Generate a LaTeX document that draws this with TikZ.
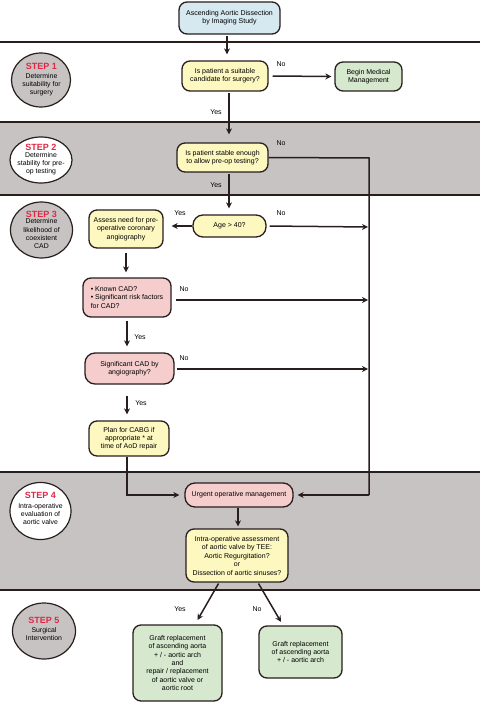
\documentclass[tikz,border=0pt]{standalone}
\usepackage{fontspec}
\setmainfont{Liberation Sans}
\usetikzlibrary{arrows.meta,shapes.geometric}
\definecolor{linec}{RGB}{40,30,30}
\definecolor{bandg}{RGB}{200,195,195}
\definecolor{circg}{RGB}{200,195,195}
\definecolor{bluef}{RGB}{214,233,240}
\definecolor{yelf}{RGB}{253,248,192}
\definecolor{greenf}{RGB}{214,232,206}
\definecolor{pinkf}{RGB}{246,205,205}
\definecolor{stepred}{RGB}{222,40,70}
\tikzset{
  box/.style={draw=linec, line width=1.3pt, rounded corners=8pt, align=center,
    font=\fontsize{7}{8.3}\selectfont, inner sep=1pt},
  stepc/.style={draw=linec, line width=1.2pt, ellipse, inner sep=0pt},
  steptxt/.style={align=center, font=\fontsize{6.9}{8.2}\selectfont, inner sep=0pt},
  arr/.style={draw=linec, line width=1.5pt, -{Stealth[length=6pt,width=6pt]}},
  conn/.style={draw=linec, line width=1.5pt},
  lbl/.style={font=\fontsize{7}{8}\selectfont, inner sep=0pt},
  sep/.style={draw=linec, line width=1.3pt},
}
\newcommand{\stp}[1]{{\fontsize{9}{10}\selectfont\bfseries\color{stepred}STEP #1}}
\begin{document}
\begin{tikzpicture}[x=1pt,y=-1pt]
\useasboundingbox (0,0) rectangle (480,703);
% bands
\fill[bandg] (0,122) rectangle (480,195);
\fill[bandg] (0,472) rectangle (480,590);
\draw[sep] (0,42) -- (480,42);
\draw[sep] (0,122) -- (480,122);
\draw[sep] (0,195) -- (480,195);
\draw[sep] (0,472) -- (480,472);
\draw[sep] (0,590) -- (480,590);

% step circles
\node[stepc, fill=circg, minimum width=59pt, minimum height=54pt] (s1) at (41,80) {};
\node[steptxt] (t1) at (41.5,79.5) {\stp{1}\\[1pt]Determine\\suitability for\\surgery};
\node[stepc, fill=white, minimum width=62pt, minimum height=46pt] (s2) at (41,160) {};
\node[steptxt] (t2) at (41,159.5) {\stp{2}\\[-1pt]Determine\\stability for pre-\\op testing};
\node[stepc, fill=circg, minimum width=62pt, minimum height=56pt] (s3) at (41.5,230) {};
\node[steptxt] (t3) at (41.5,230) {\stp{3}\\[-2pt]Determine\\likelihood of\\coexistent\\CAD};
\node[stepc, fill=white, minimum width=61pt, minimum height=57pt] (s4) at (40.5,511) {};
\node[steptxt] (t4) at (40.5,508.5) {\stp{4}\\[1pt]Intra-operative\\evaluation of\\aortic valve};
\node[stepc, fill=circg, minimum width=63pt, minimum height=56pt] (s5) at (44,631) {};
\node[steptxt] (t5) at (44,629) {\stp{5}\\[1pt]Surgical\\Intervention};

% boxes
\node[box, fill=bluef, minimum width=101pt, minimum height=32pt] (top) at (229.5,18)
  {Ascending Aortic Dissection\\by Imaging Study};
\node[box, fill=yelf, minimum width=86pt, minimum height=30pt] (q1) at (225,76)
  {Is patient a suitable\\candidate for surgery?};
\node[box, fill=greenf, minimum width=67pt, minimum height=29pt] (med) at (368.5,76.5)
  {Begin Medical\\Management};
\node[box, fill=yelf, minimum width=91pt, minimum height=29pt] (q2) at (222.5,157.5)
  {Is patient stable enough\\to allow pre-op testing?};
\node[box, fill=yelf, minimum width=73pt, minimum height=22pt, rounded corners=10pt] (age) at (229.5,226)
  {Age > 40?};
\node[box, fill=yelf, minimum width=74pt, minimum height=38pt] (assess) at (126,229)
  {Assess need for pre-\\operative coronary\\angiography};
\node[box, fill=pinkf, minimum width=88pt, minimum height=39pt, align=left] (known) at (127,297.5)
  {• Known CAD?\\• Significant risk factors\\for CAD?};
\node[box, fill=pinkf, minimum width=89pt, minimum height=31pt, rounded corners=10pt] (sig) at (129.5,368.5)
  {Significant CAD by\\angiography?};
\node[box, fill=yelf, minimum width=80pt, minimum height=35pt] (plan) at (129,438.5)
  {Plan for CABG if\\appropriate * at\\time of AoD repair};
\node[box, fill=pinkf, minimum width=108pt, minimum height=24pt, rounded corners=10pt] (urg) at (239,495)
  {Urgent operative management};
\node[box, fill=yelf, minimum width=102pt, minimum height=53pt, font=\fontsize{7}{8.5}\selectfont] (intra) at (237,555.5)
  {Intra-operative assessment\\of aortic valve by TEE:\\Aortic Regurgitation?\\or\\Dissection of aortic sinuses?};
\node[box, fill=greenf, minimum width=89pt, minimum height=76pt] (g1) at (177.5,663)
  {Graft replacement\\of ascending aorta\\+ / - aortic arch\\and\\repair / replacement\\of aortic valve or\\aortic root};
\node[box, fill=greenf, minimum width=83pt, minimum height=52pt] (g2) at (300.5,652)
  {Graft replacement\\of ascending aorta\\+ / - aortic arch};

% vertical bus coordinates
\coordinate (vq2) at (369,158);
\coordinate (vage) at (369,227);
\coordinate (vknown) at (369,300);
\coordinate (vsig) at (369,369);
\coordinate (vurg) at (369,495);

% connectors
\draw[arr, shorten <=1pt, shorten >=6pt] (top.south -| 227,0) -- (q1.north -| 227,0);
\draw[arr, shorten <=4pt, shorten >=3pt] (q1.east) -- (med.west);
\draw[arr, shorten <=1pt, shorten >=8pt] (q1.south -| 229,0) -- (q2.north -| 229,0);
\draw[arr, shorten <=1pt, shorten >=6pt] (q2.south -| 229,0) -- (age.north -| 229,0);
\draw[arr, shorten >=8pt] (age.west) -- (assess.east |- age.west);
\draw[arr, shorten <=3pt, shorten >=1pt] (age.east) -- (vage);
\draw[arr, shorten <=4pt, shorten >=5pt] (assess.south -| 126,0) -- (known.north -| 126,0);
\draw[arr, shorten <=4pt, shorten >=1pt] (known.east |- vknown) -- (vknown);
\draw[arr, shorten <=3pt, shorten >=6pt] (known.south -| 127,0) -- (sig.north -| 127,0);
\draw[arr, shorten <=2pt, shorten >=1pt] (sig.east |- vsig) -- (vsig);
\draw[arr, shorten <=11pt, shorten >=6pt] (sig.south -| 127,0) -- (plan.north -| 127,0);
\draw[arr, shorten >=5pt] (plan.south -| 127,0) |- (urg.west);
\draw[conn] (q2.east) -- (vq2) -- (vurg);
\draw[arr, shorten >=4pt] (vurg) -- (urg.east);
\draw[arr, shorten >=2pt] (urg.south -| 238,0) -- (intra.north -| 238,0);
\draw[arr, shorten <=1pt, shorten >=5pt] (intra.south -| 219,0) -- (g1.north -| 195,0);
\draw[arr, shorten <=1pt, shorten >=4pt] (intra.south -| 258,0) -- (g2.north -| 283,0);

% labels
\node[lbl] (l1) at (281,64) {No};
\node[lbl] (l2) at (216,112) {Yes};
\node[lbl] (l3) at (281,143) {No};
\node[lbl] (l4) at (216,185) {Yes};
\node[lbl] (l5) at (180,213) {Yes};
\node[lbl] (l6) at (281,213) {No};
\node[lbl] (l7) at (184,289) {No};
\node[lbl] (l8) at (140,337) {Yes};
\node[lbl] (l9) at (184,358) {No};
\node[lbl] (l10) at (141,403) {Yes};
\node[lbl] (l11) at (180,609) {Yes};
\node[lbl] (l12) at (257,609) {No};
\end{tikzpicture}
\end{document}
